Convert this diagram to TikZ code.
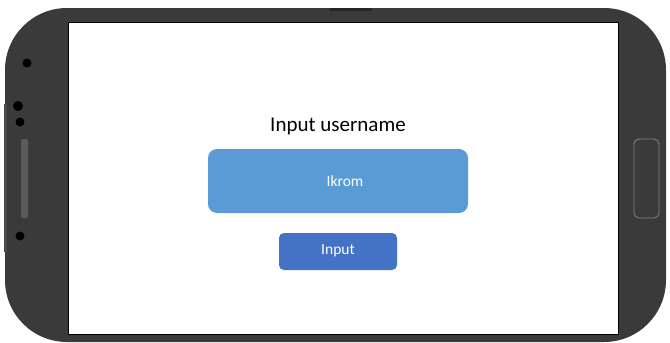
\documentclass[tikz,border=0pt]{standalone}
\usepackage{fontspec}
\setmainfont{Carlito}
\definecolor{bodygray}{HTML}{3A3A3A}
\definecolor{slotgray}{HTML}{5A5A5A}
\definecolor{edgegray}{HTML}{4A4A4A}
\definecolor{fieldblue}{HTML}{5B9BD5}
\definecolor{btnblue}{HTML}{4472C4}
\begin{document}
\begin{tikzpicture}[x=1pt,y=-1pt,
  hole/.style={fill=black},
  field/.style={fill=fieldblue,rounded corners=9pt,draw=none},
  btn/.style={fill=btnblue,rounded corners=5pt,draw=none},
  label/.style={text=white,font=\fontsize{15.5}{18}\selectfont}]
\useasboundingbox (0,0) rectangle (670,343);
% phone body
\fill[bodygray,rounded corners=62pt] (5,8) rectangle (666,342);
\fill[edgegray] (4,104) rectangle (7,252);
\fill[black!85] (330,8) rectangle (372,10.5);
% screen
\fill[white,draw=black,line width=0.8pt] (68,22) rectangle (618,334);
% left side holes and slot
\fill[hole] (27,63) circle (4.5);
\fill[hole] (18,106) circle (5);
\fill[hole] (20,122) circle (4.5);
\fill[slotgray,rounded corners=2pt] (21,139) rectangle (28,218);
\fill[hole] (20,236) circle (4.5);
% right home button
\draw[gray,line width=0.9pt,rounded corners=5pt] (634,139) rectangle (659,218);
% form
\node[font=\fontsize{21}{25}\selectfont] (title) at (338,126) {Input username};
\path[field] (208,149) rectangle (468,213);
\node[label] (name) at (345,181) {Ikrom};
\path[btn] (279,233) rectangle (397,270);
\node[label] (go) at (338,251) {Input};
\end{tikzpicture}
\end{document}
